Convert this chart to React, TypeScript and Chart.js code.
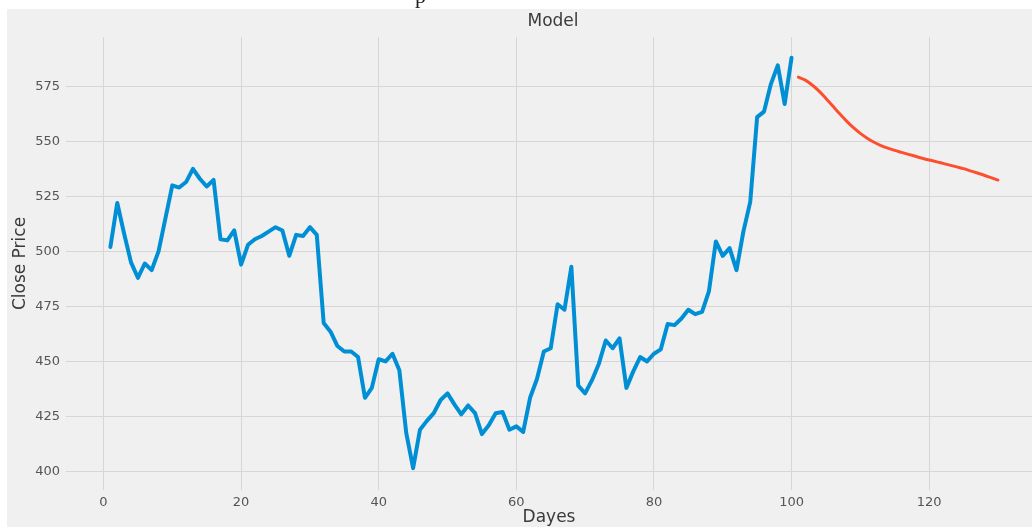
import React, { useEffect, useRef } from "react";
import { Chart, registerables } from "chart.js";

Chart.register(...registerables);

const chartTitle = "Model";
const xAxisLabel = "Dayes";
const yAxisLabel = "Close Price";

const historyStartDay = 1;
const historyClose = [
  502, 522, 508, 495, 488, 494.5, 491.5, 500, 515, 530,
  529, 531.5, 537.5, 533, 529.5, 532.5, 505.5, 505, 509.5, 494,
  503, 505.5, 507, 509, 511, 509.5, 498, 507.5, 507, 511,
  507.5, 467.5, 463.5, 457, 454.5, 454.5, 452, 433.5, 438, 451,
  450, 453.5, 446, 417.5, 401.5, 419, 423, 426.5, 432.5, 435.5,
  430.5, 426, 430, 426.5, 417, 421, 426.5, 427, 419, 420.5,
  418, 433.5, 442, 454.5, 456, 476, 473.5, 493, 439, 435.5,
  441.5, 449, 459.5, 456, 460.5, 438, 445.5, 452, 450, 453.5,
  455.5, 467, 466.5, 469.5, 473.5, 471.5, 472.5, 482, 504.5, 498,
  501.5, 491.5, 509, 522.5, 561, 563.5, 576, 584.5, 567, 588,
];

const forecastStartDay = 101;
const forecastClose = [
  579.2, 577.8, 575.6, 572.8, 569.5, 566, 562.5, 559.2, 556.2, 553.6,
  551.4, 549.6, 548.1, 546.9, 545.9, 545, 544.1, 543.2, 542.3, 541.5,
  540.8, 540, 539.2, 538.4, 537.6, 536.6, 535.6, 534.6, 533.5, 532.4,
];

const xTickValues = [0, 20, 40, 60, 80, 100, 120];
const yTickValues = [400, 425, 450, 475, 500, 525, 550, 575];

const X_MIN = -5.45;
const X_MAX = 134.95;
const Y_MIN = 391.6;
const Y_MAX = 597.4;

const FONT = "'DejaVu Sans', sans-serif";

export default function App() {
  const canvasRef = useRef<HTMLCanvasElement | null>(null);

  useEffect(() => {
    const canvas = canvasRef.current;
    if (!canvas) return;

    const historyPoints = historyClose.map((v, i) => ({ x: historyStartDay + i, y: v }));
    const forecastPoints = forecastClose.map((v, i) => ({ x: forecastStartDay + i, y: v }));

    const backgroundPlugin = {
      id: "figureBackground",
      beforeDraw(chart: any) {
        const { ctx, width, height } = chart;
        ctx.save();
        ctx.fillStyle = "#ffffff";
        ctx.fillRect(0, 0, width, height);
        ctx.fillStyle = "#f0f0f0";
        ctx.fillRect(7, 9, width - 7, 518);
        // fragment of text above the cropped figure
        ctx.beginPath();
        ctx.rect(0, 0, width, 9);
        ctx.clip();
        ctx.fillStyle = "#222222";
        ctx.font = "22px 'Liberation Serif', serif";
        ctx.textBaseline = "alphabetic";
        ctx.fillText("p", 415, 3);
        ctx.restore();
      },
      afterDraw(chart: any) {
        const { ctx } = chart;
        ctx.save();
        ctx.fillStyle = "#3a3a3a";
        ctx.font = `17px ${FONT}`;
        ctx.textAlign = "center";
        ctx.textBaseline = "middle";
        ctx.fillText(chartTitle, 553, 22);
        ctx.restore();
      },
    };

    const chart = new Chart(canvas, {
      type: "line",
      data: {
        datasets: [
          {
            data: historyPoints,
            borderColor: "#008fd5",
            borderWidth: 4,
            pointRadius: 0,
            tension: 0,
            borderJoinStyle: "round",
            borderCapStyle: "round",
            fill: false,
          },
          {
            data: forecastPoints,
            borderColor: "#fc4f30",
            borderWidth: 3,
            pointRadius: 0,
            cubicInterpolationMode: "monotone",
            borderJoinStyle: "round",
            borderCapStyle: "round",
            fill: false,
          },
        ],
      },
      options: {
        animation: false,
        responsive: false,
        maintainAspectRatio: false,
        devicePixelRatio: 1,
        layout: { padding: { top: 37, left: 0, right: 0, bottom: 0 } },
        plugins: {
          legend: { display: false },
          tooltip: { enabled: false },
          title: { display: false },
        },
        scales: {
          x: {
            type: "linear",
            min: X_MIN,
            max: X_MAX,
            afterBuildTicks: (scale: any) => {
              scale.ticks = xTickValues.map((v) => ({ value: v }));
            },
            afterFit: (scale: any) => {
              scale.height = 39;
            },
            grid: { color: "#d6d6d6", lineWidth: 1, drawTicks: false },
            border: { display: false },
            ticks: {
              color: "#555555",
              font: { family: FONT, size: 13 },
              padding: 5,
              maxRotation: 0,
            },
            title: {
              display: true,
              text: xAxisLabel,
              color: "#3a3a3a",
              font: { family: FONT, size: 17 },
              padding: { top: 0, bottom: 1 },
            },
          },
          y: {
            type: "linear",
            min: Y_MIN,
            max: Y_MAX,
            afterBuildTicks: (scale: any) => {
              scale.ticks = yTickValues.map((v) => ({ value: v }));
            },
            afterFit: (scale: any) => {
              scale.width = 66;
            },
            grid: { color: "#d6d6d6", lineWidth: 1, drawTicks: false },
            border: { display: false },
            ticks: {
              color: "#555555",
              font: { family: FONT, size: 13 },
              padding: 6,
            },
            title: {
              display: true,
              text: yAxisLabel,
              color: "#3a3a3a",
              font: { family: FONT, size: 17 },
              padding: { top: 10, bottom: 0 },
            },
          },
        },
      },
      plugins: [backgroundPlugin],
    } as any);

    return () => {
      chart.destroy();
    };
  }, []);

  return (
    <div style={{ position: "absolute", left: 0, top: 0, width: 1032, height: 529 }}>
      <canvas ref={canvasRef} width={1032} height={529} style={{ display: "block", width: 1032, height: 529 }} />
    </div>
  );
}
